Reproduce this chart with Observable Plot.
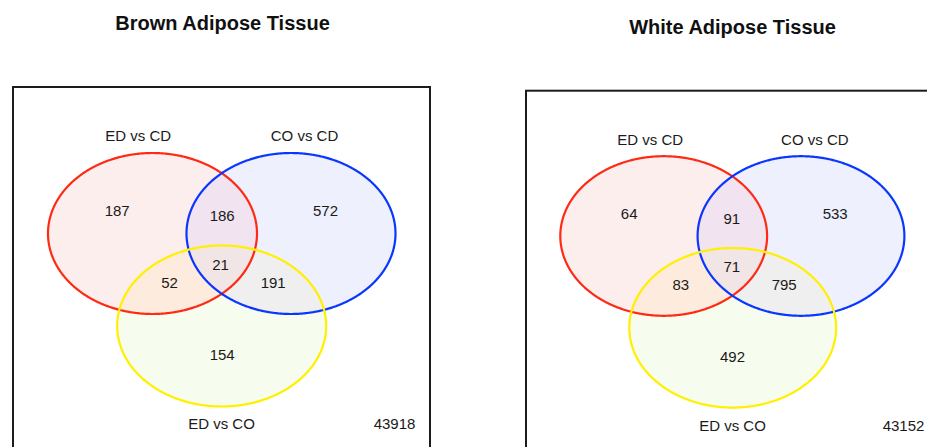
<!DOCTYPE html>
<html><head><meta charset="utf-8">
<script src="https://cdn.jsdelivr.net/npm/d3@7"></script>
<script src="https://cdn.jsdelivr.net/npm/@observablehq/plot@0.6"></script>
<style>
html,body{margin:0;padding:0;background:#fff;overflow:hidden;}
#chart svg{overflow:hidden;display:block;}
</style>
</head><body><div id="chart"></div>
<script>
// ---- data ----
const panelTitles = ["Brown Adipose Tissue", "White Adipose Tissue"];
const setNames = ["ED vs CD", "CO vs CD", "ED vs CO"];
const regionKeys = ["A", "B", "C", "AB", "AC", "BC", "ABC"];
const brownCounts = [187, 572, 154, 186, 52, 191, 21];
const whiteCounts = [64, 533, 492, 91, 83, 795, 71];
const totals = [43918, 43152];

// ---- layout / style (not data) ----
const layout = [
  {title: [222, 22.6], box: [13, 87, 430, 452],
   ell: [[152, 233], [290.5, 233], [221.2, 325.5]], rx: 104.5, ry: 80.5,
   labels: [[137.7, 135.7], [304, 135.7], [221, 424]], total: [394, 424],
   pos: {A: [116.7, 210.7], B: [325, 210.7], C: [221.7, 355], AB: [221.7, 216], AC: [169, 282.7], BC: [272.7, 282.7], ABC: [220, 264.3]}},
  {title: [732, 27.3], box: [526, 90.7, 932, 452],
   ell: [[663.2, 235.5], [800.5, 235.5], [732.2, 327.3]], rx: 103.4, ry: 79.8,
   labels: [[649.7, 139.3], [814.3, 139.3], [732, 425.7]], total: [903, 425.7],
   pos: {A: [628.7, 213.3], B: [834.7, 213.3], C: [732, 356.7], AB: [731.3, 219], AC: [680.3, 285], BC: [783.7, 285], ABC: [731.3, 266.7]}}
];
const strokeColors = ["#ff2a14", "#0a37ff", "#fff000"];
const regionFill = {A: "#fdeeee", B: "#eef0fd", C: "#f7fdee", AB: "#f1e3ef", AC: "#fdebdd", BC: "#efefef", ABC: "#f1e5e5"};
const FONT = "Liberation Sans, Arial, Helvetica, sans-serif";

const N = 720;
function ellipsePts(c, rx, ry) {
  const pts = [];
  for (let i = 0; i < N; i++) {
    const t = 2 * Math.PI * i / N;
    pts.push([c[0] + rx * Math.cos(t), c[1] + ry * Math.sin(t)]);
  }
  return pts;
}
function inside(p, c, rx, ry) {
  const dx = (p[0] - c[0]) / rx, dy = (p[1] - c[1]) / ry;
  return dx * dx + dy * dy <= 1.0005;
}
function intersection(L, idx) {
  let pts = [];
  for (const i of idx) {
    for (const p of ellipsePts(L.ell[i], L.rx, L.ry)) {
      if (idx.every(j => j === i || inside(p, L.ell[j], L.rx, L.ry))) pts.push(p);
    }
  }
  const cx = d3.mean(pts, p => p[0]), cy = d3.mean(pts, p => p[1]);
  pts.sort((a, b) => Math.atan2(a[1] - cy, a[0] - cx) - Math.atan2(b[1] - cy, b[0] - cx));
  return pts;
}

const marks = [];
layout.forEach((L, k) => {
  // base fills
  [0, 1, 2].forEach(i => {
    const pts = ellipsePts(L.ell[i], L.rx, L.ry).map(([x, y]) => ({x, y}));
    marks.push(Plot.line(pts, {x: "x", y: "y", curve: "linear-closed", fill: regionFill[regionKeys[i]], stroke: "none"}));
  });
  // overlap fills
  [["AB", [0, 1]], ["AC", [0, 2]], ["BC", [1, 2]], ["ABC", [0, 1, 2]]].forEach(([key, idx]) => {
    const pts = intersection(L, idx).map(([x, y]) => ({x, y}));
    marks.push(Plot.line(pts, {x: "x", y: "y", curve: "linear-closed", fill: regionFill[key], stroke: "none"}));
  });
  // outlines
  [0, 1, 2].forEach(i => {
    const pts = ellipsePts(L.ell[i], L.rx, L.ry).map(([x, y]) => ({x, y}));
    marks.push(Plot.line(pts, {x: "x", y: "y", curve: "linear-closed", stroke: strokeColors[i], strokeWidth: 2.2, fill: "none"}));
  });
  // frame box
  marks.push(Plot.rect([L.box], {x1: d => d[0], y1: d => d[1], x2: d => d[2], y2: d => d[3], fill: "none", stroke: "#1c1c1c", strokeWidth: 2}));
  // title
  marks.push(Plot.text([panelTitles[k]], {x: () => L.title[0], y: () => L.title[1], text: d => d, fontSize: 20, fontWeight: "bold", fill: "#111", fontFamily: FONT}));
  // set labels
  marks.push(Plot.text(setNames, {x: (d, i) => L.labels[i][0], y: (d, i) => L.labels[i][1], text: d => d, fontSize: 15, fill: "#1a1a1a", fontFamily: FONT}));
  // total
  marks.push(Plot.text([totals[k]], {x: () => L.total[0], y: () => L.total[1], text: d => String(d), fontSize: 15, fill: "#1a1a1a", fontFamily: FONT}));
  // region counts
  const counts = k === 0 ? brownCounts : whiteCounts;
  marks.push(Plot.text(counts, {x: (d, i) => L.pos[regionKeys[i]][0], y: (d, i) => L.pos[regionKeys[i]][1], text: d => String(d), fontSize: 15, fill: "#1a1a1a", fontFamily: FONT}));
});

const chart = Plot.plot({
  width: 927, height: 447,
  margin: 0, marginTop: 0, marginRight: 0, marginBottom: 0, marginLeft: 0,
  x: {domain: [0, 927], range: [0, 927], axis: null},
  y: {domain: [0, 447], range: [0, 447], axis: null},
  style: {fontFamily: FONT, background: "#fff", overflow: "hidden"},
  marks
});
document.getElementById("chart").appendChild(chart);
</script>
</body></html>
